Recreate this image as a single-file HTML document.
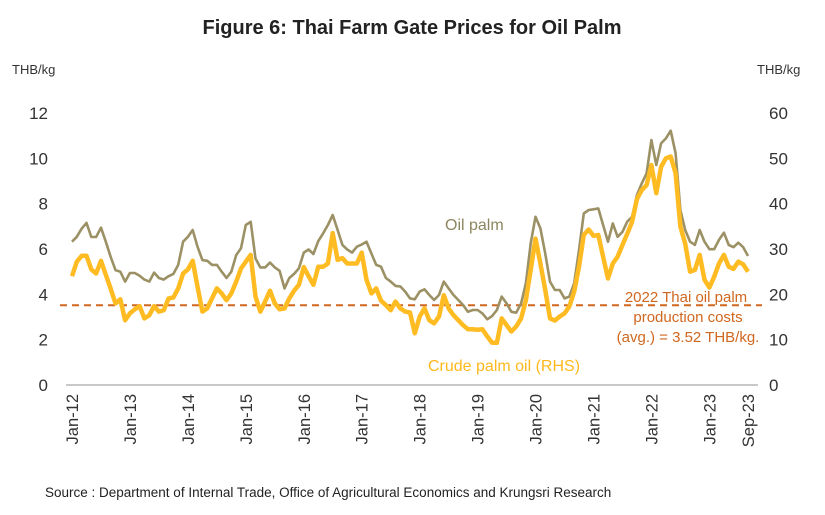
<!DOCTYPE html>
<html><head><meta charset="utf-8">
<style>
body{margin:0;background:#fff;}
svg{display:block;font-family:"Liberation Sans",sans-serif;}
</style></head>
<body>
<svg id="chart" width="825" height="515" viewBox="0 0 825 515">
<text x="412" y="34" text-anchor="middle" font-size="20" font-weight="bold" fill="#222">Figure 6: Thai Farm Gate Prices for Oil Palm</text>
<text x="12" y="74" font-size="13" fill="#333">THB/kg</text>
<text x="757" y="74" font-size="13" fill="#333">THB/kg</text>
<g id="axes"></g>
<g id="series"></g>
<text x="445" y="230" font-size="16" fill="#8c8660">Oil palm</text>
<text x="428" y="371" font-size="16" fill="#ffb81c">Crude palm oil (RHS)</text>
<g font-size="15" fill="#d0671f" text-anchor="middle">
<text x="686" y="302">2022 Thai oil palm</text>
<text x="688" y="322">production costs</text>
<text x="688" y="342">(avg.) = 3.52 THB/kg.</text>
</g>
<text x="45" y="497" font-size="13.5" fill="#222">Source : Department of Internal Trade, Office of Agricultural Economics and Krungsri Research</text>
</svg>
<script>
const oilPalm=[6.32,6.54,6.9,7.15,6.53,6.53,6.94,6.32,5.66,5.07,5.0,4.56,4.94,4.94,4.82,4.65,4.56,4.96,4.72,4.65,4.8,4.9,5.3,6.32,6.54,6.84,6.1,5.51,5.48,5.3,5.3,5.0,4.72,5.0,5.73,6.03,7.06,7.2,5.58,5.19,5.19,5.4,5.19,5.04,4.26,4.72,4.9,5.15,5.84,5.98,5.78,6.35,6.69,7.06,7.5,6.84,6.18,5.98,5.84,6.1,6.2,6.32,5.8,5.3,5.22,4.72,4.56,4.37,4.35,4.12,3.82,3.78,4.12,4.22,3.97,3.75,3.97,4.56,4.26,3.97,3.75,3.53,3.23,3.31,3.31,3.16,2.9,3.04,3.31,3.9,3.6,3.23,3.19,3.6,4.49,6.25,7.42,6.91,5.81,4.56,4.19,4.19,3.82,3.9,4.49,5.95,7.57,7.72,7.75,7.79,7.06,6.32,7.13,6.54,6.76,7.21,7.42,8.38,8.9,9.34,10.81,9.7,10.66,10.88,11.22,10.22,7.72,6.84,6.32,6.18,6.84,6.32,5.99,5.99,6.4,6.72,6.18,6.08,6.28,6.08,5.69];
const cpo=[24.0,27.2,28.5,28.5,25.5,24.6,27.4,24.3,21.3,18.0,18.9,14.3,15.8,16.7,17.4,14.7,15.4,17.4,16.2,16.5,19.1,19.3,21.3,24.6,25.5,27.4,21.7,16.2,16.9,19.1,21.3,20.2,18.7,20.2,22.8,25.7,27.2,28.7,19.5,16.2,18.4,20.8,18.0,16.7,16.9,19.1,20.8,22.1,26.0,24.0,22.1,26.1,26.1,26.8,33.5,27.6,28.0,26.8,26.8,26.8,29.2,23.2,20.2,21.3,18.6,17.6,16.5,18.4,16.9,16.2,16.0,11.4,15.1,16.9,14.3,13.6,15.1,19.8,16.9,15.4,14.3,13.2,12.3,12.3,12.2,12.3,10.7,9.3,9.3,14.7,13.2,11.8,12.9,14.7,18.7,25.4,32.3,26.8,21.0,14.7,14.2,15.1,15.8,17.3,20.6,26.1,33.1,34.3,32.9,33.1,28.3,23.5,26.8,28.3,30.9,33.4,36.0,41.0,43.0,44.1,48.5,42.3,48.1,50.0,50.4,46.7,34.9,31.2,25.0,25.4,28.7,23.2,21.5,23.9,26.8,28.7,26.1,25.6,27.2,26.6,25.0];
const xLabels=["Jan-12","Jan-13","Jan-14","Jan-15","Jan-16","Jan-17","Jan-18","Jan-19","Jan-20","Jan-21","Jan-22","Jan-23","Sep-23"];
const xLabelMonths=[0,12,24,36,48,60,72,84,96,108,120,132,140];
const leftTicks=[0,2,4,6,8,10,12];
const rightTicks=[0,10,20,30,40,50,60];
const costLine=[3.52];

const NS="http://www.w3.org/2000/svg";
const x=m=>72+m*(676/140);
const yL=v=>385-v*(272/12);
const yR=v=>385-v*(272/60);
const axes=document.getElementById('axes');
const series=document.getElementById('series');
function mk(tag,attrs,parent){const e=document.createElementNS(NS,tag);for(const k in attrs)e.setAttribute(k,attrs[k]);parent.appendChild(e);return e;}

const base=mk('line',{x1:66,x2:758,y1:385,y2:385,stroke:'#a6a6a6','stroke-width':1.2},axes);


leftTicks.forEach(v=>{const t=mk('text',{x:48,y:yL(v)+6,'text-anchor':'end','font-size':17,fill:'#333'},axes);t.textContent=v;

});
rightTicks.forEach(v=>{const t=mk('text',{x:769,y:yR(v)+6,'text-anchor':'start','font-size':17,fill:'#333'},axes);t.textContent=v;

});
xLabels.forEach((l,i)=>{const px=x(xLabelMonths[i])+6;const t=mk('text',{x:0,y:0,'text-anchor':'end','font-size':16.5,fill:'#333',transform:`translate(${px},394) rotate(-90)`},axes);t.textContent=l;

});

const d=mk('line',{x1:60,x2:762,y1:yL(costLine[0]),y2:yL(costLine[0]),stroke:'#d0671f','stroke-width':2,'stroke-dasharray':'7,5'},series);



const p1=mk('polyline',{points:oilPalm.map((v,i)=>x(i).toFixed(1)+','+yL(v).toFixed(1)).join(' '),fill:'none',stroke:'#9c9165','stroke-width':2.6,'stroke-linejoin':'round'},series);


const p2=mk('polyline',{points:cpo.map((v,i)=>x(i).toFixed(1)+','+yR(v).toFixed(1)).join(' '),fill:'none',stroke:'#ffbb22','stroke-width':4.5,'stroke-linejoin':'round'},series);


</script>
</body></html>
